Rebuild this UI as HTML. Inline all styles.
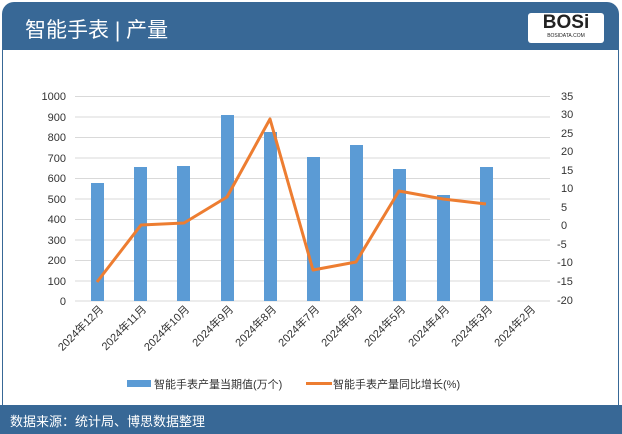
<!DOCTYPE html>
<html><head><meta charset="utf-8"><style>
body{margin:0;background:#fff;}
.w{position:relative;width:622px;height:434px;overflow:hidden;font-family:"Liberation Sans","Noto Sans CJK SC",sans-serif;}
.hd{position:absolute;left:2px;top:2px;width:617px;height:48px;background:#386896;border-radius:12px 12px 0 0;}
.ft{position:absolute;left:0;top:405px;width:622px;height:29px;background:#386896;}
.bd{position:absolute;left:2px;top:50px;width:615px;height:355px;border:1px solid #386896;border-top:none;}
</style></head><body><div class="w">
<div class="hd"></div><div class="bd"></div><div class="ft"></div>
<div style="position:absolute;left:25px;top:14px;color:#fff;font-size:21px;">智能手表 | 产量</div>
<div style="position:absolute;left:528px;top:13px;width:76px;height:30px;background:#fff;border-radius:3px;text-align:center;font:900 19px/20px 'Liberation Sans',sans-serif;color:#222;">BOSi<div style="font-size:5px;line-height:6px;font-weight:normal">BOSIDATA.COM</div></div>
<div style="position:absolute;left:10px;top:411px;color:#fff;font-size:13px;">数据来源：统计局、博思数据整理</div>
<svg width="622" height="434" style="position:absolute;left:0;top:0" font-family="Liberation Sans, Noto Sans CJK SC, sans-serif">
<g stroke="#d9d9d9" stroke-width="1">
<line x1="75" x2="550" y1="96.5" y2="96.5"/><line x1="75" x2="550" y1="117" y2="117"/><line x1="75" x2="550" y1="137.5" y2="137.5"/><line x1="75" x2="550" y1="158" y2="158"/><line x1="75" x2="550" y1="178.5" y2="178.5"/><line x1="75" x2="550" y1="199" y2="199"/><line x1="75" x2="550" y1="219.5" y2="219.5"/><line x1="75" x2="550" y1="240" y2="240"/><line x1="75" x2="550" y1="260.5" y2="260.5"/><line x1="75" x2="550" y1="281" y2="281"/><line x1="75" x2="550" y1="301" y2="301"/>
</g>
<g fill="#5b9bd5">
<rect x="91" y="183" width="13" height="118"/>
<rect x="134" y="167" width="13" height="134"/>
<rect x="177" y="166" width="13" height="135"/>
<rect x="221" y="115" width="13" height="186"/>
<rect x="264" y="132" width="13" height="169"/>
<rect x="307" y="157" width="13" height="144"/>
<rect x="350" y="145" width="13" height="156"/>
<rect x="393" y="169" width="13" height="132"/>
<rect x="437" y="195" width="13" height="106"/>
<rect x="480" y="167" width="13" height="134"/>
</g>
<polyline fill="none" stroke="#ed7d31" stroke-width="3" stroke-linejoin="round" points="97,282 141,225 184,223 227,197 270,119 313,270 356,262 399,191 443,199 486,204"/>
<g font-size="11" fill="#333" text-anchor="end">
<text x="66" y="100">1000</text><text x="66" y="121">900</text><text x="66" y="141">800</text><text x="66" y="162">700</text><text x="66" y="182">600</text><text x="66" y="203">500</text><text x="66" y="223">400</text><text x="66" y="244">300</text><text x="66" y="264">200</text><text x="66" y="285">100</text><text x="66" y="305">0</text>
</g>
<g font-size="11" fill="#333" text-anchor="start">
<text x="561" y="100">35</text><text x="561" y="118">30</text><text x="561" y="137">25</text><text x="561" y="155">20</text><text x="561" y="174">15</text><text x="561" y="192">10</text><text x="561" y="211">5</text><text x="561" y="229">0</text><text x="557" y="248">-5</text><text x="557" y="266">-10</text><text x="557" y="285">-15</text><text x="557" y="304">-20</text>
</g>
<g font-size="11" fill="#333" text-anchor="end">
<text transform="translate(104,310) rotate(-45)">2024年12月</text>
<text transform="translate(147,310) rotate(-45)">2024年11月</text>
<text transform="translate(190,310) rotate(-45)">2024年10月</text>
<text transform="translate(234,310) rotate(-45)">2024年9月</text>
<text transform="translate(277,310) rotate(-45)">2024年8月</text>
<text transform="translate(320,310) rotate(-45)">2024年7月</text>
<text transform="translate(363,310) rotate(-45)">2024年6月</text>
<text transform="translate(406,310) rotate(-45)">2024年5月</text>
<text transform="translate(450,310) rotate(-45)">2024年4月</text>
<text transform="translate(493,310) rotate(-45)">2024年3月</text>
<text transform="translate(536,310) rotate(-45)">2024年2月</text>
</g>
<rect x="127" y="380" width="24" height="7" fill="#5b9bd5"/>
<text x="154" y="388" font-size="11" fill="#333">智能手表产量当期值(万个)</text>
<line x1="306" x2="332" y1="383.5" y2="383.5" stroke="#ed7d31" stroke-width="3"/>
<text x="333" y="388" font-size="11" fill="#333">智能手表产量同比增长(%)</text>
</svg>
</div></body></html>
